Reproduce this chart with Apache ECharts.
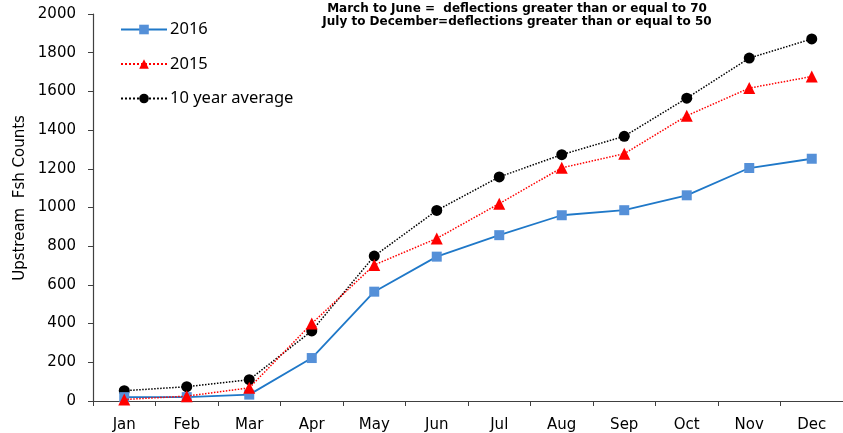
<!DOCTYPE html>
<html>
<head>
<meta charset="utf-8">
<script src="https://cdn.jsdelivr.net/npm/echarts@6/dist/echarts.min.js"></script>
<style>html,body{margin:0;padding:0;background:#fff}#c{width:843px;height:433px}</style>
</head>
<body>
<div id="c"></div>
<script>
const months = ['Jan','Feb','Mar','Apr','May','Jun','Jul','Aug','Sep','Oct','Nov','Dec'];
const s2016 = [20, 20, 33, 222, 565, 746, 857, 960, 986, 1063, 1204, 1252];
const s2015 = [8, 25, 68, 400, 703, 840, 1020, 1205, 1278, 1474, 1617, 1677];
const avg10 = [53, 74, 110, 362, 749, 985, 1158, 1273, 1368, 1565, 1772, 1871];
const yTicks = [0, 2000, 200];
const titleLines = ['March to June =  deflections greater than or equal to 70', 'July to December=deflections greater than or equal to 50'];
const yName = 'Upstream  Fsh Counts';

const chart = echarts.init(document.getElementById('c'), null, {renderer: 'canvas'});
const font = 'Noto Sans';
const axFont = 'DejaVu Sans';
chart.setOption({
  animation: false,
  backgroundColor: '#fff',
  title: {
    text: titleLines.join('\n'),
    left: 512, top: -3, textAlign: 'center',
    textStyle: {fontFamily: 'DejaVu Sans', fontWeight: 'bold', fontSize: 12, lineHeight: 13, color: '#000'}
  },
  legend: {
    orient: 'vertical', left: 115, top: 16, itemWidth: 46, itemHeight: 12, itemGap: 17.5,
    textStyle: {fontFamily: font, fontSize: 16.5, color: '#000', padding: [0,0,0,-2]},
    data: ['2016', '2015', '10 year average']
  },
  graphic: [{
    type: 'text', x: 20, y: 198, rotation: Math.PI / 2,
    style: {text: yName, font: '15px "DejaVu Sans"', fill: '#000', textAlign: 'center', textVerticalAlign: 'middle'}
  }],
  grid: {left: 93, top: 14, width: 754, bottom: 31, containLabel: false},
  xAxis: {
    type: 'category', data: months, boundaryGap: true,
    axisLine: {lineStyle: {color: '#404040', width: 1.2}},
    axisTick: {show: true, length: 5, lineStyle: {color: '#404040'}},
    axisLabel: {fontFamily: axFont, fontSize: 15, color: '#000', margin: 17}
  },
  yAxis: {
    type: 'value', min: yTicks[0], max: yTicks[1], interval: yTicks[2],
    splitLine: {show: false},
    axisLine: {show: true, lineStyle: {color: '#404040', width: 1.2}},
    axisTick: {show: true, length: 5, lineStyle: {color: '#404040'}},
    axisLabel: {fontFamily: axFont, fontSize: 15, color: '#000', margin: 17, formatter: v => String(v)}
  },
  series: [
    {name: '2016', type: 'line', data: s2016, symbol: 'rect', symbolSize: 10,
     lineStyle: {color: '#1f78c8', width: 1.8}, itemStyle: {color: '#5590d8'}, z: 3},
    {name: '2015', type: 'line', data: s2015, symbol: 'triangle', symbolSize: 12,
     lineStyle: {color: '#ff0000', width: 1.5, type: 'dotted'}, itemStyle: {color: '#ff0000'}, z: 4},
    {name: '10 year average', type: 'line', data: avg10, symbol: 'circle', symbolSize: 11,
     lineStyle: {color: '#000', width: 1.5, type: 'dotted'}, itemStyle: {color: '#000'}, z: 2}
  ]
});
</script>
</body>
</html>
